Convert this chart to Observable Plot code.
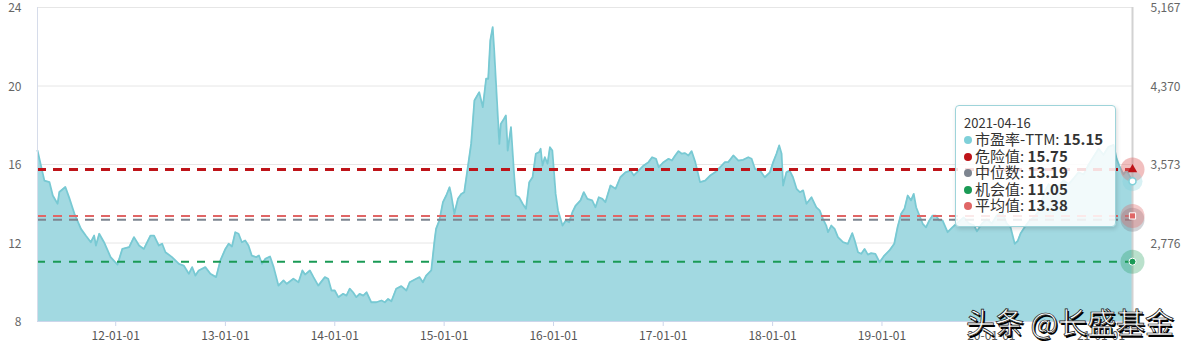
<!DOCTYPE html>
<html><head><meta charset="utf-8">
<script src="https://cdn.jsdelivr.net/npm/d3@7"></script>
<script src="https://cdn.jsdelivr.net/npm/@observablehq/plot@0.6"></script>
<style>
body{margin:0;background:#fff;}
#wrap{position:relative;width:1200px;height:349px;font-family:"Noto Sans CJK SC","Noto Sans",sans-serif;}
#tip{position:absolute;left:955px;top:105px;width:161px;height:122px;background:rgba(255,255,255,0.86);border:1px solid #9ed4da;border-radius:4px;box-shadow:1px 2px 4px rgba(0,0,0,.15);box-sizing:border-box;padding:9px 0 0 8px;color:#333;}
#tip .d{font-size:13px;line-height:16px;}
#tip .r{font-size:15px;line-height:16.6px;white-space:nowrap;}
#tip .r i{display:inline-block;width:8px;height:8px;border-radius:50%;margin-right:3px;vertical-align:1px;}
#tip .r b{font-weight:bold;}
#wm{position:absolute;left:966px;top:300px;font-size:29px;color:#fff;white-space:nowrap;-webkit-text-stroke:0.7px #111;text-shadow:1.5px 1.5px 0 #000;font-family:"Noto Sans CJK SC",sans-serif;}
</style></head>
<body>
<div id="wrap"></div>
<script>
const dates = ["2011-04-15","2011-05-08","2011-05-25","2011-06-05","2011-06-21","2011-06-27","2011-07-17","2011-07-30","2011-08-16","2011-09-07","2011-09-23","2011-10-10","2011-10-21","2011-10-27","2011-11-07","2011-11-23","2011-12-15",
"2012-01-07","2012-01-23","2012-02-15","2012-03-02","2012-03-19","2012-04-04","2012-04-26","2012-05-08","2012-05-24","2012-06-04","2012-06-15","2012-07-07","2012-07-30","2012-08-15","2012-09-01","2012-09-12","2012-09-23","2012-10-04","2012-10-26","2012-11-12","2012-12-01","2012-12-15",
"2013-01-01","2013-01-12","2013-01-23","2013-02-03","2013-02-14","2013-02-25","2013-03-08","2013-03-19","2013-03-30","2013-04-14","2013-04-23","2013-05-03","2013-05-14","2013-05-30","2013-06-11","2013-06-27","2013-07-14","2013-07-25","2013-08-16","2013-09-02","2013-09-15","2013-09-24","2013-10-10","2013-10-22","2013-11-07","2013-11-29","2013-12-10","2013-12-21",
"2014-01-01","2014-01-13","2014-01-29","2014-02-09","2014-02-20","2014-03-03","2014-03-14","2014-03-25","2014-04-06","2014-04-17","2014-05-03","2014-05-20","2014-06-06","2014-06-17","2014-06-28","2014-07-09","2014-07-25","2014-08-11","2014-08-28","2014-09-08","2014-09-30","2014-10-11","2014-10-22","2014-11-02","2014-11-19","2014-11-30","2014-12-05","2014-12-16","2014-12-28",
"2015-01-08","2015-01-19","2015-01-24","2015-02-04","2015-02-16","2015-02-27","2015-03-09","2015-03-21","2015-04-01","2015-04-12","2015-04-28","2015-05-10","2015-05-21","2015-05-28","2015-06-04","2015-06-12","2015-06-17","2015-06-28","2015-07-04","2015-07-09","2015-07-20","2015-07-26","2015-08-01","2015-08-12","2015-08-23","2015-08-28","2015-09-08","2015-09-20","2015-10-01","2015-10-12","2015-10-23","2015-11-03","2015-11-14","2015-11-19","2015-11-25","2015-12-03","2015-12-12","2015-12-20","2015-12-28",
"2016-01-08","2016-01-16","2016-01-31","2016-02-11","2016-02-22","2016-03-04","2016-03-15","2016-03-31","2016-04-11","2016-04-23","2016-05-09","2016-05-20","2016-05-31","2016-06-12","2016-06-22","2016-07-09","2016-07-26","2016-08-11","2016-08-28","2016-09-14","2016-09-25","2016-10-11","2016-10-28","2016-11-13","2016-11-25","2016-12-08","2016-12-17",
"2017-01-02","2017-01-19","2017-01-30","2017-02-10","2017-02-21","2017-03-04","2017-03-15","2017-03-26","2017-04-06","2017-04-18","2017-05-04","2017-05-21","2017-06-07","2017-06-23","2017-07-10","2017-07-26","2017-08-06","2017-08-23","2017-09-09","2017-09-25","2017-10-12","2017-10-23","2017-11-03","2017-11-20","2017-12-06","2017-12-23",
"2018-01-03","2018-01-14","2018-01-23","2018-01-31","2018-02-05","2018-02-16","2018-02-27","2018-03-10","2018-03-22","2018-04-02","2018-04-13","2018-04-24","2018-05-11","2018-05-27","2018-06-07","2018-06-18","2018-06-29","2018-07-05","2018-07-16","2018-07-27","2018-08-07","2018-08-24","2018-09-09","2018-09-24","2018-10-02","2018-10-13","2018-10-24","2018-11-04","2018-11-15","2018-11-26","2018-12-10","2018-12-24",
"2019-01-09","2019-01-26","2019-02-11","2019-02-22","2019-03-06","2019-03-17","2019-03-28","2019-04-08","2019-04-17","2019-04-25","2019-05-06","2019-05-17","2019-05-28","2019-06-08","2019-06-19","2019-06-30","2019-07-11","2019-07-22","2019-08-08","2019-08-24","2019-09-15","2019-10-01","2019-10-18","2019-11-04","2019-11-14","2019-12-01","2019-12-17",
"2020-01-03","2020-01-19","2020-02-05","2020-02-21","2020-03-05","2020-03-19","2020-03-29","2020-04-08","2020-04-21","2020-05-05","2020-05-21","2020-06-07","2020-06-24","2020-07-10","2020-07-27","2020-08-13","2020-08-29","2020-09-15","2020-10-02","2020-10-18","2020-11-04","2020-11-21","2020-12-07","2020-12-24",
"2021-01-09","2021-01-26","2021-02-12","2021-02-22","2021-03-04","2021-03-17","2021-03-27","2021-04-16"];

const pe = [16.71,15.18,15.10,14.42,14.00,14.60,14.85,14.30,13.50,12.72,12.38,12.04,12.38,11.87,12.47,12.04,11.28,
10.90,11.70,11.79,12.30,11.87,11.70,12.38,12.38,11.87,11.96,11.53,11.28,10.94,10.85,10.43,10.77,10.34,10.60,10.77,10.43,10.26,11.10,
11.70,11.96,11.82,12.55,12.47,12.04,12.13,11.87,11.36,11.28,11.36,10.94,11.19,11.31,10.77,9.83,10.09,9.92,10.18,10.00,10.60,10.39,10.60,10.26,9.83,10.26,10.18,9.58,
9.58,9.24,9.41,9.32,9.67,9.49,9.24,9.41,9.32,9.49,8.98,8.98,9.07,8.98,9.15,9.03,9.67,9.80,9.58,10.00,10.18,10.26,10.00,10.34,10.60,12.13,12.72,13.15,14.08,
14.42,14.84,14.50,13.49,14.25,14.50,14.59,15.86,17.05,19.26,19.68,18.92,20.37,20.37,22.32,23.00,21.81,18.75,17.05,18.07,18.33,18.50,16.71,17.90,15.35,14.42,14.33,14.00,13.74,15.10,15.35,16.55,16.63,16.80,15.95,16.37,16.04,16.88,16.71,
14.50,13.66,12.89,13.15,13.06,13.57,13.91,14.17,14.59,14.25,14.17,13.82,14.33,14.25,14.08,14.93,14.76,15.35,15.60,15.69,15.44,15.69,15.95,16.12,16.37,16.29,15.86,
16.12,16.29,16.20,16.46,16.68,16.55,16.58,16.46,16.68,16.12,15.10,15.18,15.44,15.60,15.86,16.12,16.12,16.46,16.20,16.24,16.37,16.29,15.78,15.69,15.35,15.60,
16.12,16.55,16.97,16.55,14.93,15.60,15.69,15.35,14.76,14.59,14.68,14.00,14.33,13.82,13.66,13.23,12.89,12.55,12.89,12.72,12.30,12.04,11.96,12.50,12.13,11.53,11.45,11.70,11.41,11.48,11.45,11.02,
11.36,11.62,11.96,12.80,13.49,13.74,14.42,14.17,14.50,13.82,13.40,12.98,12.80,13.15,13.40,13.40,13.15,13.15,12.55,12.80,13.10,13.30,13.00,12.90,12.60,13.00,13.20,
13.00,13.40,13.60,13.00,12.80,11.96,12.10,12.50,12.80,13.10,13.30,13.60,14.50,15.00,14.80,14.90,15.20,15.00,15.30,15.60,15.50,16.00,16.40,16.80,
16.50,16.90,17.00,16.30,15.90,15.50,15.70,15.15];

const levelNames = ["危险值","中位数","机会值","平均值"];
const levelValues = [15.75, 13.19, 11.05, 13.38];
const levelColors = ["#be1419","#7d8590","#1a9a55","#e06666"];
const seriesName = "市盈率-TTM";
const seriesColor = "#7fd0d9";
const leftTicks = [8,12,16,20,24];
const rightTicks = [12,16,20,24];
const rightLabels = ["2,776","3,573","4,370","5,167"];
const xTicks = ["2012-01-01","2013-01-01","2014-01-01","2015-01-01","2016-01-01","2017-01-01","2018-01-01","2019-01-01","2020-01-01","2021-01-01"];
const tipDate = "2021-04-16";
const watermark = "头条 @长盛基金";

const parse = d3.utcParse("%Y-%m-%d");
const data = dates.map((d,i)=>({date: parse(d), pe: pe[i]}));
const first = data[0].date, last = data[data.length-1].date;
const levels = levelNames.map((n,i)=>({name:n, value:levelValues[i], color:levelColors[i], date:last}));
const lv = n => levels.find(l=>l.name===n);
const lastPoint = [{date:last, value: pe[pe.length-1]}];

const dashes = {"危险值":"9,7","中位数":"9,7","机会值":"8,8","平均值":"9,7"};
const widths = {"危险值":3,"中位数":2,"机会值":2,"平均值":2};

const plot = Plot.plot({
  width:1200, height:349,
  marginLeft:37, marginRight:68, marginTop:7, marginBottom:28,
  style:{fontSize:"12px", fontFamily:"'Noto Sans CJK SC','Noto Sans',sans-serif", background:"#fff", overflow:"visible"},
  x:{type:"utc", domain:[first,last]},
  y:{domain:[8,24]},
  marks:[
    Plot.gridY(rightTicks, {stroke:"#e6e6e6", strokeOpacity:1}),
    Plot.areaY(data, {x:"date", y1:8, y2:"pe", fill:"#a2d9e1", fillOpacity:1}),
    Plot.lineY(data, {x:"date", y:"pe", stroke:"#78c9d3", strokeWidth:1.8}),
    ...["平均值","中位数","机会值","危险值"].map(n => Plot.ruleY([lv(n)], {y:"value", stroke:lv(n).color, strokeWidth:widths[n], strokeDasharray:dashes[n]})),
    Plot.ruleX([first], {stroke:"#d6dcea"}),
    Plot.ruleX([last], {stroke:"#d2d2d2", strokeWidth:2}),
    Plot.ruleY([8], {stroke:"#ccd6eb"}),
    Plot.axisX(xTicks.map(parse), {tickFormat:d3.utcFormat("%y-%m-%d"), tickSize:5, tickPadding:5, stroke:"#ccd6eb", fill:"#555", label:null}),
    Plot.axisY(leftTicks, {anchor:"left", tickSize:0, tickPadding:16, fill:"#666", label:null, dy:1}),
    Plot.axisY(rightTicks, {anchor:"right", tickSize:0, tickPadding:18, fill:"#666", label:null, dy:1, tickFormat:d=>rightLabels[rightTicks.indexOf(d)]}),
    // end markers: halos
    Plot.dot([lv("中位数")], {x:"date", y:"value", r:12, fill:"#7d8590", fillOpacity:0.35}),
    Plot.dot([lv("平均值")], {x:"date", y:"value", r:12, fill:"#e06666", fillOpacity:0.35}),
    Plot.dot([lv("危险值")], {x:"date", y:"value", r:12, fill:"#e07070", fillOpacity:0.45}),
    Plot.dot(lastPoint, {x:"date", y:"value", r:10, fill:seriesColor, fillOpacity:0.3}),
    Plot.dot([lv("机会值")], {x:"date", y:"value", r:12, fill:"#1a9a55", fillOpacity:0.3}),
    // end markers: symbols
    Plot.dot([lv("危险值")], {x:"date", y:"value", r:3.5, symbol:"triangle", fill:"#be1419"}),
    Plot.dot([lv("平均值")], {x:"date", y:"value", r:3.5, symbol:"square", fill:"#e06666", stroke:"#fff", strokeWidth:1}),
    Plot.dot(lastPoint, {x:"date", y:"value", r:3.5, fill:"#fff", stroke:seriesColor, strokeWidth:1.5}),
    Plot.dot([lv("机会值")], {x:"date", y:"value", r:3.5, fill:"#1a9a55", stroke:"#fff", strokeWidth:1})
  ]
});

const wrap = document.getElementById("wrap");
wrap.appendChild(plot);

const tip = document.createElement("div");
tip.id = "tip";
let html = `<div class="d">${tipDate}</div>`;
html += `<div class="r"><i style="background:${seriesColor}"></i>${seriesName}: <b>${pe[pe.length-1].toFixed(2)}</b></div>`;
["危险值","中位数","机会值","平均值"].forEach(n=>{
  const l = lv(n);
  html += `<div class="r"><i style="background:${l.color}"></i>${l.name}: <b>${l.value.toFixed(2)}</b></div>`;
});
tip.innerHTML = html;
wrap.appendChild(tip);

const wm = document.createElement("div");
wm.id = "wm";
wm.textContent = watermark;
wrap.appendChild(wm);
</script>
</body></html>
